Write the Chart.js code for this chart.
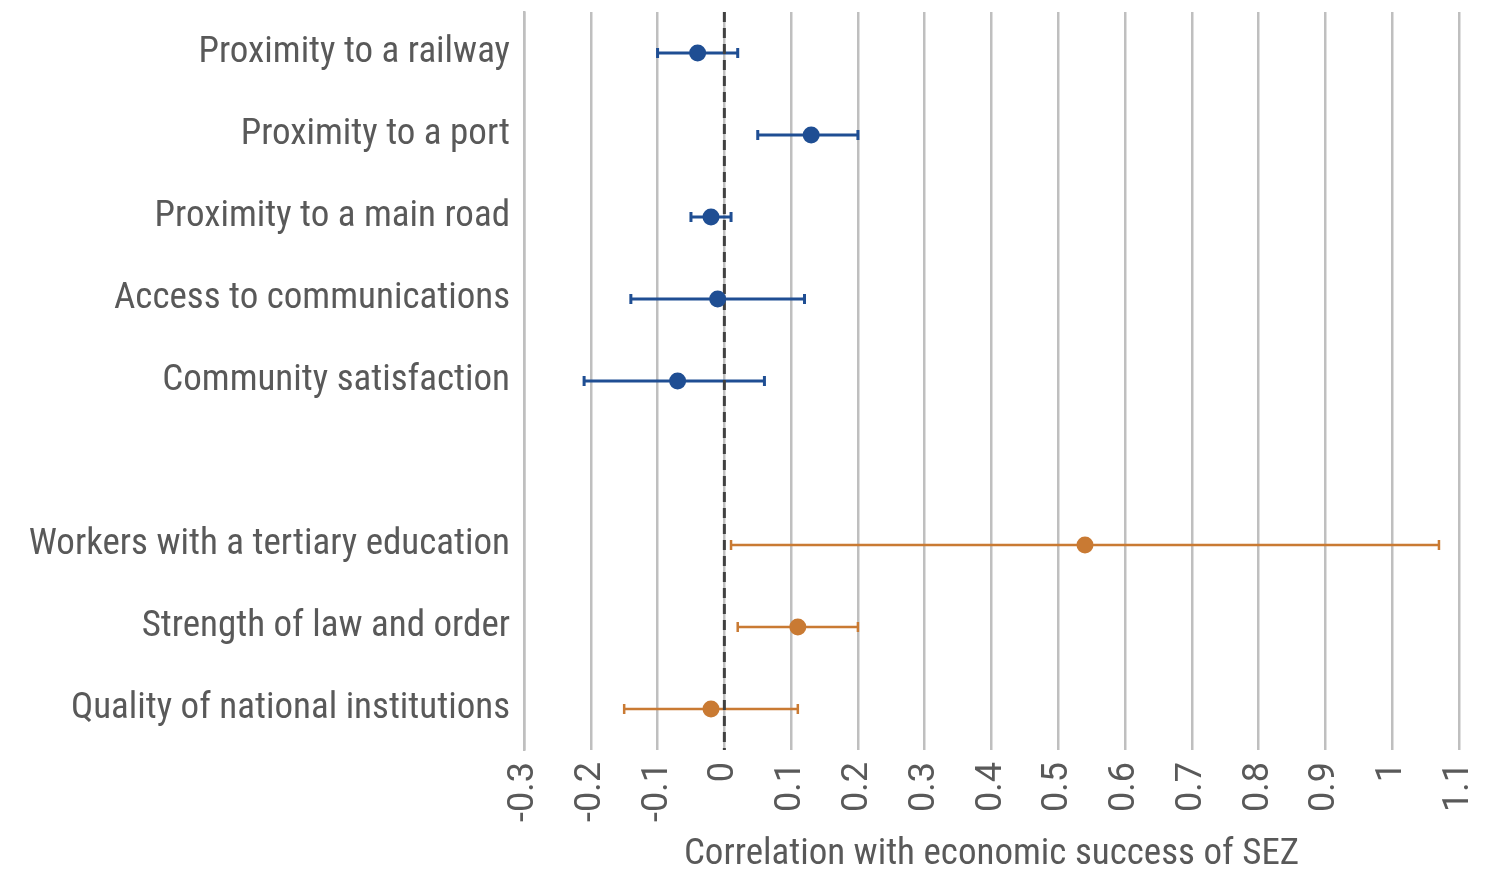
<!DOCTYPE html>
<html>
<head>
<meta charset="utf-8">
<script src="https://cdn.jsdelivr.net/npm/chart.js@4"></script>
<style>
    html, body { margin: 0; padding: 0; background: #ffffff; }
    #wrap { width: 1492px; height: 884px; }
</style>
</head>
<body>
<div id="wrap"><canvas id="myChart" width="1492" height="884"></canvas></div>
<script>
// categories, top to bottom (the empty one is the gap between the groups)
const categories = [
    'Proximity to a railway',
    'Proximity to a port',
    'Proximity to a main road',
    'Access to communications',
    'Community satisfaction',
    '',
    'Workers with a tertiary education',
    'Strength of law and order',
    'Quality of national institutions'
];

// first group (blue)
const locationLabels = categories.slice(0, 5);
const locationValues = [-0.04, 0.13, -0.02, -0.01, -0.07];
const locationLow = [-0.10, 0.05, -0.05, -0.14, -0.21];
const locationHigh = [0.02, 0.20, 0.01, 0.12, 0.06];

// second group (orange)
const institutionLabels = categories.slice(6);
const institutionValues = [0.54, 0.11, -0.02];
const institutionLow = [0.01, 0.02, -0.15];
const institutionHigh = [1.07, 0.20, 0.11];

const xTicks = [-0.3, -0.2, -0.1, 0, 0.1, 0.2, 0.3, 0.4, 0.5, 0.6, 0.7, 0.8, 0.9, 1, 1.1];

const blue = '#1f4e93';
const orange = '#c97a33';
const textGray = '#595959';
const fontName = "Roboto, 'DejaVu Sans Condensed', sans-serif";
// chart.js puts the weight in front of the size, so a stretch keyword can go with it
const narrow = 'normal condensed';

function makePoints(labels, values) {
    return labels.map(function (label, i) {
        return { x: values[i], y: label };
    });
}

// dashed zero line and the error bars, drawn under the points
const errorBarPlugin = {
    id: 'errorBars',
    beforeDatasetsDraw(chart) {
        const c = chart.ctx;
        const xScale = chart.scales.x;
        const area = chart.chartArea;

        c.save();
        chart.data.datasets.forEach(function (ds, d) {
            const meta = chart.getDatasetMeta(d);
            c.strokeStyle = ds.backgroundColor;
            c.lineWidth = ds.barWidth;
            meta.data.forEach(function (pt, i) {
                const y = pt.y;
                const x1 = xScale.getPixelForValue(ds.errLow[i]);
                const x2 = xScale.getPixelForValue(ds.errHigh[i]);
                c.beginPath();
                c.moveTo(x1, y);
                c.lineTo(x2, y);
                c.moveTo(x1, y - 5);
                c.lineTo(x1, y + 5);
                c.moveTo(x2, y - 5);
                c.lineTo(x2, y + 5);
                c.stroke();
            });
        });

        // zero line
        const x0 = xScale.getPixelForValue(0);
        c.strokeStyle = '#404040';
        c.lineWidth = 3;
        c.setLineDash([10, 6]);
        c.beginPath();
        c.moveTo(x0, area.top);
        c.lineTo(x0, area.bottom);
        c.stroke();
        c.restore();
    }
};

const ctx = document.getElementById('myChart').getContext('2d');

new Chart(ctx, {
    type: 'scatter',
    data: {
        datasets: [{
            label: 'Location',
            data: makePoints(locationLabels, locationValues),
            errLow: locationLow,
            errHigh: locationHigh,
            barWidth: 3,
            backgroundColor: blue,
            borderWidth: 0,
            pointRadius: 8.5
        }, {
            label: 'Institutions',
            data: makePoints(institutionLabels, institutionValues),
            errLow: institutionLow,
            errHigh: institutionHigh,
            barWidth: 2.5,
            backgroundColor: orange,
            borderWidth: 0,
            pointRadius: 8.5
        }]
    },
    options: {
        responsive: false,
        animation: false,
        layout: {
            padding: { top: 12, right: 33, left: 0, bottom: 0 }
        },
        plugins: {
            legend: { display: false },
            tooltip: { enabled: false }
        },
        scales: {
            x: {
                type: 'linear',
                min: -0.3,
                max: 1.1,
                afterBuildTicks: function (scale) {
                    scale.ticks = xTicks.map(function (v) { return { value: v }; });
                },
                afterFit: function (scale) {
                    scale.height = 134;
                    scale.paddingLeft = 0;
                    scale.paddingRight = 0;
                },
                grid: {
                    color: '#bfbfbf',
                    lineWidth: 2.5,
                    drawTicks: false
                },
                border: { display: false },
                ticks: {
                    minRotation: 90,
                    maxRotation: 90,
                    padding: 12,
                    color: textGray,
                    font: { family: fontName, size: 36 },
                    callback: function (value) {
                        return String(Math.round(value * 10) / 10);
                    }
                },
                title: {
                    display: true,
                    text: 'Correlation with economic success of SEZ',
                    color: textGray,
                    font: { family: fontName, size: 37, weight: narrow },
                    padding: { top: 0, bottom: 7 }
                }
            },
            y: {
                type: 'category',
                labels: categories,
                offset: true,
                afterFit: function (scale) {
                    scale.width = 524;
                    scale.paddingTop = 0;
                    scale.paddingBottom = 0;
                },
                grid: { display: false, drawTicks: false },
                border: { display: true, color: '#bfbfbf', width: 2.5 },
                ticks: {
                    padding: 14,
                    color: textGray,
                    font: { family: fontName, size: 37, weight: narrow }
                }
            }
        }
    },
    plugins: [errorBarPlugin]
});
</script>
</body>
</html>
